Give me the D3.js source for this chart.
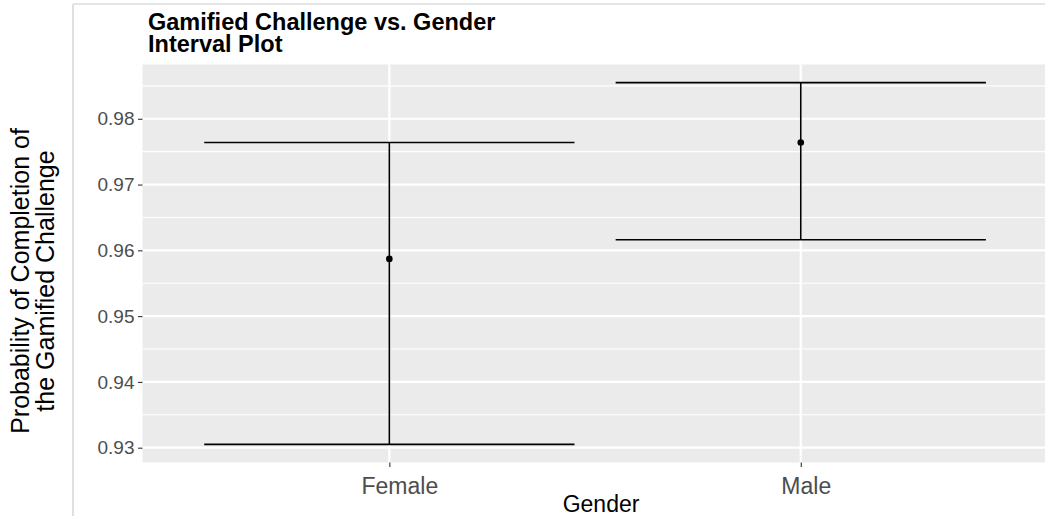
<!DOCTYPE html>
<html>
<head>
<meta charset="utf-8">
<script src="https://cdn.jsdelivr.net/npm/d3@7"></script>
<style>
  html, body { margin: 0; padding: 0; background: #fff; }
  svg { display: block; }
  text { font-family: Arial, "Liberation Sans", sans-serif; }
</style>
</head>
<body>
<svg id="chart" width="1045" height="516"></svg>
<script>
// ---- data ----
const categories = ["Female", "Male"];
const lowerValues = [0.9305, 0.9616];
const estimateValues = [0.9587, 0.9764];
const upperValues = [0.9764, 0.9855];
const yTickValues = [0.93, 0.94, 0.95, 0.96, 0.97, 0.98];
const yMinorValues = [0.935, 0.945, 0.955, 0.965, 0.975, 0.985];
const titleLines = ["Gamified Challenge vs. Gender", "Interval Plot"];
const yTitleLines = ["Probability of Completion of", "the Gamified Challenge"];
const xTitle = "Gender";

// ---- layout ----
const W = 1045, H = 516;
const panel = { left: 142.5, right: 1047.6, top: 64.5, bottom: 462.5 };
const xLabelShift = { Female: 10, Male: 5 };

const svg = d3.select("#chart");

// frame lines
svg.append("line").attr("x1", 73).attr("x2", 73).attr("y1", 4).attr("y2", H)
  .attr("stroke", "#cfcfcf").attr("stroke-width", 1.3);
svg.append("line").attr("x1", 73).attr("x2", W).attr("y1", 4).attr("y2", 4)
  .attr("stroke", "#dcdcdc").attr("stroke-width", 1.3);

// scales
const lo = d3.min(lowerValues), hi = d3.max(upperValues);
const pad = (hi - lo) * 0.05;
const y = d3.scaleLinear().domain([lo - pad, hi + pad]).range([panel.bottom, panel.top]);
const x = d3.scalePoint().domain(categories).range([panel.left, panel.right]).padding(0.6);
const step = x.step();

// panel background
const g = svg.append("g");
g.append("rect").attr("x", panel.left).attr("y", panel.top)
  .attr("width", panel.right - panel.left).attr("height", panel.bottom - panel.top)
  .attr("fill", "#ebebeb");

// minor gridlines
g.selectAll(".minor").data(yMinorValues).join("line")
  .attr("x1", panel.left).attr("x2", panel.right)
  .attr("y1", d => y(d)).attr("y2", d => y(d))
  .attr("stroke", "#fff").attr("stroke-width", 1.1);
// major gridlines
g.selectAll(".major").data(yTickValues).join("line")
  .attr("x1", panel.left).attr("x2", panel.right)
  .attr("y1", d => y(d)).attr("y2", d => y(d))
  .attr("stroke", "#fff").attr("stroke-width", 2.2);
g.selectAll(".vmajor").data(categories).join("line")
  .attr("x1", d => x(d)).attr("x2", d => x(d))
  .attr("y1", panel.top).attr("y2", panel.bottom)
  .attr("stroke", "#fff").attr("stroke-width", 2.2);

// y axis
const yAxis = d3.axisLeft(y).tickValues(yTickValues).tickSize(4.5).tickPadding(3.5)
  .tickFormat(d3.format(".2f"));
const ya = svg.append("g").attr("transform", `translate(${panel.left},0)`).call(yAxis);
ya.select(".domain").remove();
ya.selectAll(".tick line").attr("stroke", "#333").attr("stroke-width", 1.1);
ya.selectAll(".tick text").attr("fill", "#4d4d4d").style("font-size", "19px")
  .style("font-family", "Arial, 'Liberation Sans', sans-serif");

// x axis
const xAxis = d3.axisBottom(x).tickSize(4.5).tickPadding(11);
const xa = svg.append("g").attr("transform", `translate(0,${panel.bottom})`).call(xAxis);
xa.select(".domain").remove();
xa.selectAll(".tick line").attr("stroke", "#333").attr("stroke-width", 1.1);
xa.selectAll(".tick text").attr("fill", "#4d4d4d").style("font-size", "23px")
  .attr("dx", d => xLabelShift[d] || 0)
  .style("font-family", "Arial, 'Liberation Sans', sans-serif");

// error bars
const rows = categories.map((c, i) => ({ c, lo: lowerValues[i], est: estimateValues[i], hi: upperValues[i] }));
const hw = 0.45 * step;
const eb = svg.append("g");
eb.selectAll(".v").data(rows).join("line")
  .attr("x1", d => x(d.c)).attr("x2", d => x(d.c))
  .attr("y1", d => y(d.lo)).attr("y2", d => y(d.hi))
  .attr("stroke", "#000").attr("stroke-width", 1.6);
eb.selectAll(".top").data(rows).join("line")
  .attr("x1", d => x(d.c) - hw).attr("x2", d => x(d.c) + hw)
  .attr("y1", d => y(d.hi)).attr("y2", d => y(d.hi))
  .attr("stroke", "#000").attr("stroke-width", 1.6);
eb.selectAll(".bot").data(rows).join("line")
  .attr("x1", d => x(d.c) - hw).attr("x2", d => x(d.c) + hw)
  .attr("y1", d => y(d.lo)).attr("y2", d => y(d.lo))
  .attr("stroke", "#000").attr("stroke-width", 1.6);
eb.selectAll("circle").data(rows).join("circle")
  .attr("cx", d => x(d.c)).attr("cy", d => y(d.est)).attr("r", 3.3).attr("fill", "#000");

// title (two lines)
svg.selectAll(".title").data(titleLines).join("text")
  .attr("class", "title")
  .attr("x", 148).attr("y", (d, i) => 30 + i * 21.5)
  .style("font-size", "23.5px").style("font-weight", "bold").attr("fill", "#000")
  .text(d => d);

// x title
svg.append("text").attr("x", (panel.left + panel.right) / 2 + 6).attr("y", 512)
  .attr("text-anchor", "middle").style("font-size", "23px").attr("fill", "#000").text(xTitle);

// y title
svg.selectAll(".ytitle").data(yTitleLines).join("text")
  .attr("class", "ytitle")
  .attr("transform", (d, i) => `translate(${29 + i * 24.5},281) rotate(-90)`)
  .attr("text-anchor", "middle")
  .style("font-size", "25px").attr("fill", "#000")
  .text(d => d);
</script>
</body>
</html>
